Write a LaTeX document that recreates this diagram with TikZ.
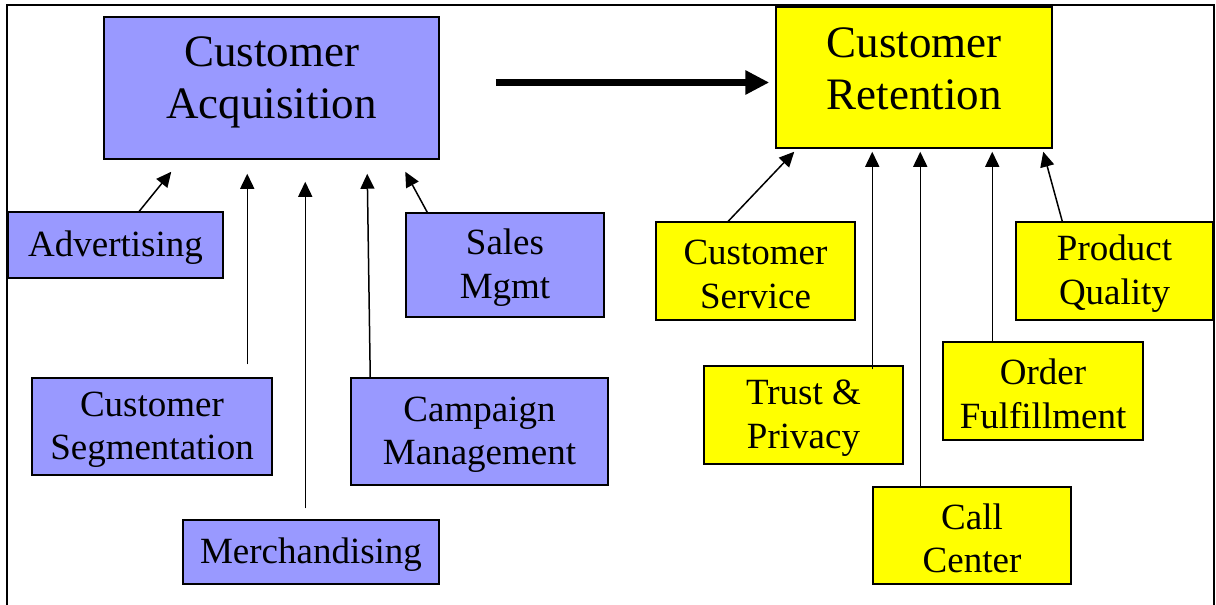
\documentclass[tikz,border=0pt]{standalone}
\usepackage{fontspec}
\setmainfont{Liberation Serif}
\usetikzlibrary{arrows.meta,calc}

\definecolor{acqblue}{HTML}{9999FF}
\definecolor{retyellow}{HTML}{FFFF00}

\newcommand\lift{\rule{0pt}{31pt}}% pushes box text a little down

\tikzset{box/.style={draw, line width=1.5pt, align=center,
           font=\fontsize{37}{43.5}\selectfont},
         bigtext/.style={align=center, font=\fontsize{45}{52}\selectfont},
         acq/.style={fill=acqblue},
         ret/.style={fill=retyellow},
         link/.style={draw, line width=1.5pt,
           -{Triangle[length=15pt,width=14pt]}}}

\begin{document}
\begin{tikzpicture}[
    x = 1pt, y = -1pt,  % pixel grid, y down
    every node/.style = {inner sep = 0pt}
  ]
  \useasboundingbox (0,0) rectangle (1216,605);
  \draw[line width=1.5pt] (7,606) -- (7,5) -- (1214,5) -- (1214,606);

  % main boxes
  \node[box, acq, minimum width=335pt, minimum height=142pt] (acquisition) at (271.5,88) {};
  \node[bigtext] (acqtext) at (271.5,82.5) {Customer\\Acquisition};
  \node[box, ret, minimum width=276pt, minimum height=141pt] (retention) at (914,77.5) {};
  \node[bigtext] (rettext) at (914,68.5) {Customer\\Retention};

  \draw[line width=7.5pt, -{Triangle[length=24pt,width=23pt]}]
    ($(acquisition.east)+(56,-5.5)$) -- ($(retention.west)+(-6,5)$);

  % acquisition side
  \begin{scope}[nodes = {box, acq}]
    \node[minimum width=215pt, minimum height=66pt] (advertising) at (115.5,245) {\lift Advertising};
    \node[minimum width=198pt, minimum height=104pt] (sales) at (505,265) {\lift Sales\\Mgmt};
    \node[minimum width=240pt, minimum height=97pt] (segmentation) at (152,426.5) {\lift Customer\\Segmentation};
    \node[minimum width=257pt, minimum height=107pt] (campaign) at (479.5,431.5) {\lift Campaign\\Management};
    \node[minimum width=256pt, minimum height=64pt] (merchandising) at (311,552) {\lift Merchandising};
  \end{scope}

  % retention side
  \begin{scope}[nodes = {box, ret}]
    \node[minimum width=199pt, minimum height=98pt] (service) at (755.5,271) {\lift Customer\\Service};
    \node[minimum width=197pt, minimum height=98pt] (quality) at (1114.5,271) {\lift Product\\Quality};
    \node[minimum width=199pt, minimum height=98pt] (trust) at (803.5,415) {\lift Trust \&\\Privacy};
    \node[minimum width=200pt, minimum height=98pt] (order) at (1043,391) {\lift Order\\Fulfillment};
    \node[minimum width=198pt, minimum height=97pt] (callcenter) at (972,535.5) {\lift Call\\Center};
  \end{scope}

  \draw[link] ($(advertising.north west)+(132,0)$) -- ($(acquisition.south west)+(68,12)$);
  \draw[link] ($(segmentation.north west)+(216,-13)$) -- ($(acquisition.south west)+(144,14)$);
  \draw[link] ($(merchandising.north west)+(123,-11)$) -- ($(acquisition.south west)+(202,22)$);
  \draw[link] ($(campaign.north west)+(20,0)$) -- ($(acquisition.south west)+(264,14)$);
  \draw[link] ($(sales.north west)+(22,0)$) -- ($(acquisition.south west)+(302,12)$);

  \draw[link] ($(service.north west)+(73,0)$) -- ($(retention.south west)+(19,3)$);
  \draw[link] ($(trust.north west)+(169,4)$) -- ($(retention.south west)+(97,3)$);
  \draw[link] ($(callcenter.north west)+(48,2)$) -- ($(retention.south west)+(145,3)$);
  \draw[link] ($(order.north west)+(50,0)$) -- ($(retention.south west)+(217,3)$);
  \draw[link] ($(quality.north west)+(47,0)$) -- ($(retention.south west)+(268,3)$);
\end{tikzpicture}
\end{document}
